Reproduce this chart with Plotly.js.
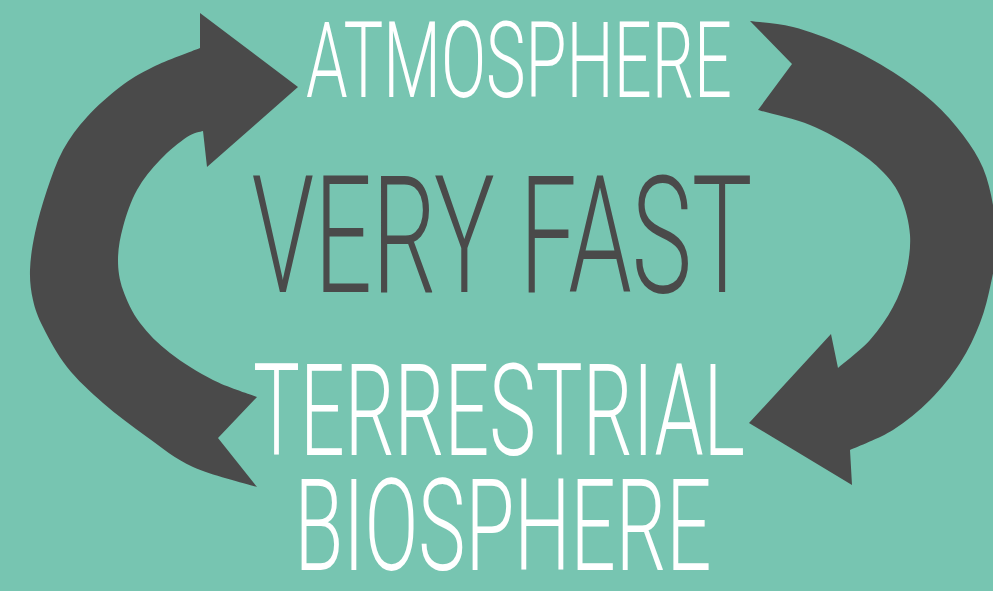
<!DOCTYPE html>
<html><head><meta charset="utf-8">
<script src="https://cdn.plot.ly/plotly-3.0.1.min.js"></script>
<style>html,body{margin:0;padding:0;background:#77c5b1;overflow:hidden}</style>
</head><body><div id="chart" style="width:993px;height:591px"></div>
<script>
// ---- text content ----
const labels = ["ATMOSPHERE", "VERY FAST", "TERRESTRIAL", "BIOSPHERE"];

// ---- left arrow outline (pixel space) ----
const leftOuterX = [200, 153, 120, 87, 63, 47, 35, 30, 33, 43, 67, 103, 147, 193, 257];
const leftOuterY = [48, 67, 87, 117, 150, 190, 233, 270, 300, 327, 367, 403, 437, 467, 487];
const leftTailX = [218];
const leftTailY = [438];
const leftInnerX = [257, 213, 170, 140, 123, 118, 123, 137, 160, 187, 203];
const leftInnerY = [397, 380, 353, 323, 290, 260, 227, 190, 160, 137, 131];
const leftHeadX = [207, 298, 200];
const leftHeadY = [167, 87, 13];

// ---- right arrow outline ----
const rightOuterX = [750, 793, 843, 893, 933, 963, 983, 993, 997, 991, 980, 960, 930, 893, 850];
const rightOuterY = [21, 27, 45, 72, 102, 135, 168, 205, 243, 283, 323, 363, 400, 430, 450];
const rightHeadX = [852, 749, 831];
const rightHeadY = [485, 423, 334];
const rightInnerX = [838, 870, 893, 906, 910, 901, 883, 853, 810, 758];
const rightInnerY = [368, 340, 307, 273, 235, 198, 172, 148, 125, 110];
const rightTailX = [792];
const rightTailY = [64];

// ---- styling / placement ----
const BG = "#77c5b1", DARK = "#4a4a4a", WHITE = "#ffffff";
const labelX = [519, 502, 499, 503];
const labelY = [71, 251, 423, 538];
const labelSize = [105, 163, 128, 128];
const labelColor = [WHITE, DARK, WHITE, WHITE];
const labelWidth = [426, 501, 492, 417];

function pts(xs, ys) { return xs.map((x, i) => [x, ys[i]]); }
function smooth(p) { // Catmull-Rom curve through the outline points as cubic Bezier path commands
  let s = "";
  for (let i = 0; i < p.length - 1; i++) {
    const p0 = p[Math.max(i - 1, 0)], p1 = p[i], p2 = p[i + 1], p3 = p[Math.min(i + 2, p.length - 1)];
    const c1 = [p1[0] + (p2[0] - p0[0]) / 6, p1[1] + (p2[1] - p0[1]) / 6];
    const c2 = [p2[0] - (p3[0] - p1[0]) / 6, p2[1] - (p3[1] - p1[1]) / 6];
    s += ` C ${c1[0]},${c1[1]} ${c2[0]},${c2[1]} ${p2[0]},${p2[1]}`;
  }
  return s;
}
function lines(p) { return p.map(q => ` L ${q[0]},${q[1]}`).join(""); }

const lo = pts(leftOuterX, leftOuterY), li = pts(leftInnerX, leftInnerY);
const leftPath = `M ${lo[0][0]},${lo[0][1]}` + smooth(lo) + lines(pts(leftTailX, leftTailY)) +
  ` L ${li[0][0]},${li[0][1]}` + smooth(li) + lines(pts(leftHeadX, leftHeadY)) + " Z";

const ro = pts(rightOuterX, rightOuterY), ri = pts(rightInnerX, rightInnerY);
const rightPath = `M ${ro[0][0]},${ro[0][1]}` + smooth(ro) + lines(pts(rightHeadX, rightHeadY)) +
  ` L ${ri[0][0]},${ri[0][1]}` + smooth(ri) + lines(pts(rightTailX, rightTailY)) + " Z";

const data = [{
  type: "scatter", mode: "text", x: labelX, y: labelY, text: labels,
  textposition: "middle center", hoverinfo: "skip", cliponaxis: false,
  textfont: { family: "Roboto, 'Open Sans', sans-serif", size: labelSize, color: labelColor, weight: 300 }
}];

const layout = {
  width: 993, height: 591, margin: { l: 0, r: 0, t: 0, b: 0 },
  paper_bgcolor: BG, plot_bgcolor: BG, showlegend: false,
  xaxis: { range: [0, 993], visible: false, fixedrange: true },
  yaxis: { range: [591, 0], visible: false, fixedrange: true },
  shapes: [
    { type: "path", xref: "x", yref: "y", path: leftPath, fillcolor: DARK, line: { width: 0 }, layer: "below" },
    { type: "path", xref: "x", yref: "y", path: rightPath, fillcolor: DARK, line: { width: 0 }, layer: "below" }
  ]
};

Plotly.newPlot("chart", data, layout, { staticPlot: true, displayModeBar: false }).then(gd => {
  const texts = gd.querySelectorAll(".textpoint text");
  texts.forEach((t, i) => {
    const bb = t.getBBox();
    const s = labelWidth[i] / bb.width;
    const x = parseFloat(t.getAttribute("x")), y = parseFloat(t.getAttribute("y"));
    t.setAttribute("transform", `translate(${x},${y}) scale(${s},1) translate(${-x},${-y})`);
    t.style.strokeLinejoin = "round";
  });
});
</script></body></html>
